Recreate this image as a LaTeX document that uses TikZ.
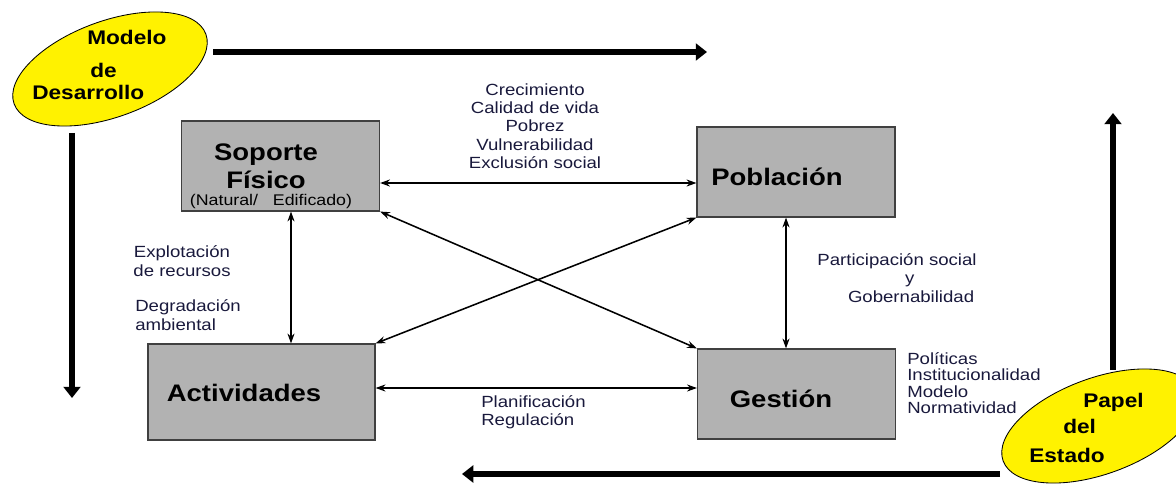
\documentclass[tikz,border=0pt]{standalone}
\usepackage{fontspec}
\setmainfont[FakeStretch=1.15]{Liberation Sans}
\usepackage{tikz}
\usetikzlibrary{arrows.meta,shapes.geometric}
\usetikzlibrary{calc}
\definecolor{boxgray}{RGB}{178,178,178}
\definecolor{labelblue}{RGB}{25,25,60}

\begin{document}
\begin{tikzpicture}[x=0.025cm, y=-0.025cm,
	box/.style={draw=black!75, fill=boxgray, line width=0.8pt, minimum width=4.95cm, minimum height=2.25cm, inner sep=0pt},
	boxtext/.style={font=\fontsize{17}{19.8}\selectfont\bfseries, inner sep=0pt, align=center},
	oval/.style={ellipse, draw, fill=yellow, line width=0.6pt, minimum width=5.1cm, minimum height=2.4cm, rotate=20},
	ovaltext/.style={font=\fontsize{14}{16}\selectfont\bfseries, inner sep=0pt, anchor=base west},
	lbl/.style={font=\fontsize{11.5}{13}\selectfont, text=labelblue, inner sep=0pt},
	link/.style={{Stealth[length=7pt,width=5pt]}-{Stealth[length=7pt,width=5pt]}, line width=1.1pt},
	flow/.style={-{Triangle[length=8pt,width=12pt]}, line width=4.5pt}
]
\useasboundingbox (0,0) rectangle (1176,485);

% outer cycle
\coordinate (top-a) at (213,52);
\coordinate (top-b) at (707,52);
\coordinate (left-a) at (72,133);
\coordinate (left-b) at (72,398);
\coordinate (right-a) at (1113,370);
\coordinate (right-b) at (1113,113);
\coordinate (bottom-a) at (1000,474);
\coordinate (bottom-b) at (462,474);
\draw[flow, line width=3.8pt] (top-a) -- (top-b);
\draw[flow] (left-a) -- (left-b);
\draw[flow] (right-a) -- (right-b);
\draw[flow] (bottom-a) -- (bottom-b);

\node[oval] (modelo) at (110,69) {};
\node[ovaltext] (modelo-1) at (87,45) {Modelo};
\node[ovaltext] (modelo-2) at (90,78) {de};
\node[ovaltext] (modelo-3) at (32,100) {Desarrollo};

\node[oval] (papel) at (1099,426) {};
\node[ovaltext] (papel-1) at (1083,407) {Papel};
\node[ovaltext] (papel-2) at (1063,433) {del};
\node[ovaltext] (papel-3) at (1029,462) {Estado};

% boxes
\node[box] (soporte) at (280.5,166) {};
\node[box] (poblacion) at (796,172) {};
\node[box, minimum width=5.675cm, minimum height=2.4cm] (actividades) at (261.5,392) {};
\node[box] (gestion) at (796.5,394) {};

\node[boxtext] (soporte-t) at (266,166) {Soporte\\F\'isico};
\node[lbl, text=black, font=\fontsize{11}{13}\selectfont] (soporte-s) at (271,201) {(Natural/\ \ \ Edificado)};
\node[boxtext] (poblacion-t) at (777,177) {Población};
\node[boxtext] (actividades-t) at (244,393) {Actividades};
\node[boxtext] (gestion-t) at (781,399) {Gestión};

% relations
\draw[link] ($(soporte.east)+(0,17)$) -- ($(poblacion.west)+(0,11)$);
\draw[link] ($(soporte.south)+(10.5,0)$) -- ($(actividades.north)+(29.5,0)$);
\draw[link] ($(poblacion.south)+(-10,0)$) -- ($(gestion.north)+(-10.5,0)$);
\draw[link] ($(actividades.east)+(0,-4)$) -- ($(gestion.west)+(0,-6)$);
\draw[link] (soporte.south east) -- (gestion.north west);
\draw[link] (actividades.north east) -- (poblacion.south west);

% labels
\node[lbl, align=center] (efectos) at (535,126) {Crecimiento\\Calidad de vida\\Pobrez\\Vulnerabilidad\\Exclusión social};
\node[lbl, align=center] (recursos) at (182,261) {Explotación\\de recursos};
\node[lbl, align=left, anchor=west] (degradacion) at (135,315) {Degradación\\ambiental};
\node[lbl, align=center] (participacion) at (897,278) {Participación social\\\hspace*{18pt}y\\\hspace*{20pt}Gobernabilidad};
\node[lbl, align=left, anchor=west, font=\fontsize{11.5}{11.7}\selectfont] (politicas) at (907,383) {Políticas\\Institucionalidad\\Modelo\\Normatividad};
\node[lbl, align=left, anchor=west] (planificacion) at (481,412) {Planificación\\Regulación};
\end{tikzpicture}
\end{document}
